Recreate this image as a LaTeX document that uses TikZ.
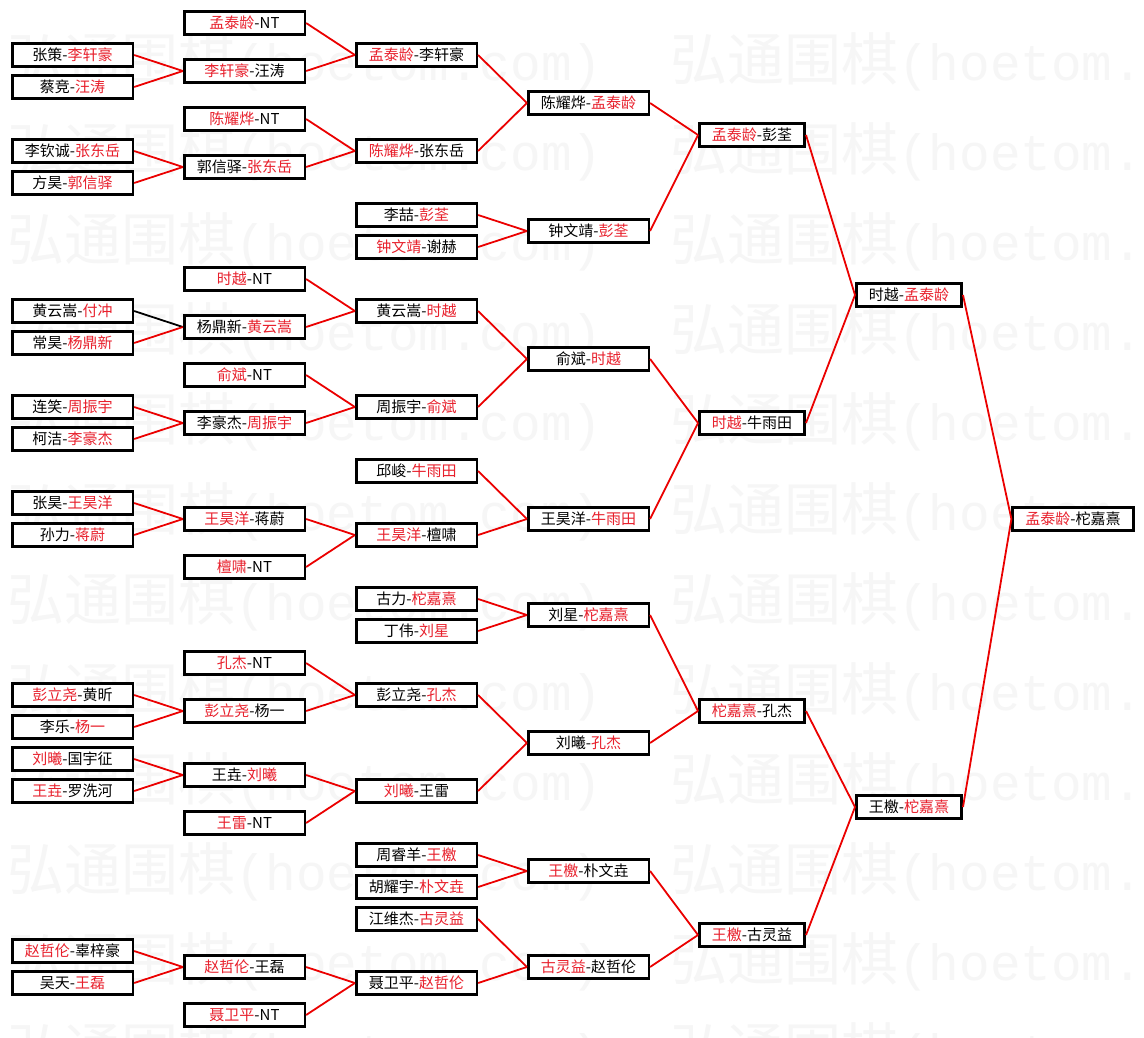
\documentclass[tikz,border=0pt]{standalone}
\usepackage{fontspec}
\setmainfont{Noto Sans CJK SC}
\newfontfamily\wmcjk{Noto Sans CJK SC}
\newfontfamily\wmmono{Liberation Mono}
\definecolor{txtred}{RGB}{232,32,44}
\definecolor{linered}{RGB}{235,0,0}
\definecolor{wmgray}{RGB}{246,246,246}
\newcommand\myred[1]{\textcolor{txtred}{#1}}
\begin{document}
\begin{tikzpicture}[x=1pt,y=-1pt,
  box/.style={draw=black, line width=2.6pt, fill=white, minimum width=120.6pt,
    minimum height=23.4pt, inner sep=0pt, font=\fontsize{15}{18}\selectfont},
  narrow/.style={box, minimum width=105.4pt},
  link/.style={draw=linered, line width=1.8pt},
  blink/.style={draw=black, line width=1.8pt},
  wm/.style={text=wmgray, inner sep=0pt, anchor=west}]
\useasboundingbox (0,0) rectangle (1144,1037);
\fill[white] (0,0) rectangle (1144,1037);
% watermark
\foreach \k in {0,...,11}{
  \foreach \x in {7,670}{
    \node[wm] (wm-\k-\x) at (\x,62+90*\k)
      {\wmcjk\fontsize{57}{60}\selectfont 弘通围棋\wmmono\fontsize{51}{60}\selectfont (hoetom.com)};
  }
}
% column A
\node[box] (a1) at (72.5,55) {张策-\myred{李轩豪}};
\node[box] (a2) at (72.5,87) {蔡竞-\myred{汪涛}};
\node[box] (a3) at (72.5,151) {李钦诚-\myred{张东岳}};
\node[box] (a4) at (72.5,183) {方昊-\myred{郭信驿}};
\node[box] (a5) at (72.5,311) {黄云嵩-\myred{付冲}};
\node[box] (a6) at (72.5,343) {常昊-\myred{杨鼎新}};
\node[box] (a7) at (72.5,407) {连笑-\myred{周振宇}};
\node[box] (a8) at (72.5,439) {柯洁-\myred{李豪杰}};
\node[box] (a9) at (72.5,503) {张昊-\myred{王昊洋}};
\node[box] (a10) at (72.5,535) {孙力-\myred{蒋蔚}};
\node[box] (a11) at (72.5,695) {\myred{彭立尧}-黄昕};
\node[box] (a12) at (72.5,727) {李乐-\myred{杨一}};
\node[box] (a13) at (72.5,759) {\myred{刘曦}-国宇征};
\node[box] (a14) at (72.5,791) {\myred{王垚}-罗洗河};
\node[box] (a15) at (72.5,951) {\myred{赵哲伦}-辜梓豪};
\node[box] (a16) at (72.5,983) {吴天-\myred{王磊}};
% column B
\node[box] (b1) at (244.5,23) {\myred{孟泰龄}-NT};
\node[box] (b2) at (244.5,71) {\myred{李轩豪}-汪涛};
\node[box] (b3) at (244.5,119) {\myred{陈耀烨}-NT};
\node[box] (b4) at (244.5,167) {郭信驿-\myred{张东岳}};
\node[box] (b5) at (244.5,279) {\myred{时越}-NT};
\node[box] (b6) at (244.5,327) {杨鼎新-\myred{黄云嵩}};
\node[box] (b7) at (244.5,375) {\myred{俞斌}-NT};
\node[box] (b8) at (244.5,423) {李豪杰-\myred{周振宇}};
\node[box] (b9) at (244.5,519) {\myred{王昊洋}-蒋蔚};
\node[box] (b10) at (244.5,567) {\myred{檀啸}-NT};
\node[box] (b11) at (244.5,663) {\myred{孔杰}-NT};
\node[box] (b12) at (244.5,711) {\myred{彭立尧}-杨一};
\node[box] (b13) at (244.5,775) {王垚-\myred{刘曦}};
\node[box] (b14) at (244.5,823) {\myred{王雷}-NT};
\node[box] (b15) at (244.5,967) {\myred{赵哲伦}-王磊};
\node[box] (b16) at (244.5,1015) {\myred{聂卫平}-NT};
% column C
\node[box] (c1) at (416.5,55) {\myred{孟泰龄}-李轩豪};
\node[box] (c2) at (416.5,151) {\myred{陈耀烨}-张东岳};
\node[box] (c3) at (416.5,215) {李喆-\myred{彭荃}};
\node[box] (c4) at (416.5,247) {\myred{钟文靖}-谢赫};
\node[box] (c5) at (416.5,311) {黄云嵩-\myred{时越}};
\node[box] (c6) at (416.5,407) {周振宇-\myred{俞斌}};
\node[box] (c7) at (416.5,471) {邱峻-\myred{牛雨田}};
\node[box] (c8) at (416.5,535) {\myred{王昊洋}-檀啸};
\node[box] (c9) at (416.5,599) {古力-\myred{柁嘉熹}};
\node[box] (c10) at (416.5,631) {丁伟-\myred{刘星}};
\node[box] (c11) at (416.5,695) {彭立尧-\myred{孔杰}};
\node[box] (c12) at (416.5,791) {\myred{刘曦}-王雷};
\node[box] (c13) at (416.5,855) {周睿羊-\myred{王檄}};
\node[box] (c14) at (416.5,887) {胡耀宇-\myred{朴文垚}};
\node[box] (c15) at (416.5,919) {江维杰-\myred{古灵益}};
\node[box] (c16) at (416.5,983) {聂卫平-\myred{赵哲伦}};
% column D
\node[box] (d1) at (588.5,103) {陈耀烨-\myred{孟泰龄}};
\node[box] (d2) at (588.5,231) {钟文靖-\myred{彭荃}};
\node[box] (d3) at (588.5,359) {俞斌-\myred{时越}};
\node[box] (d4) at (588.5,519) {王昊洋-\myred{牛雨田}};
\node[box] (d5) at (588.5,615) {刘星-\myred{柁嘉熹}};
\node[box] (d6) at (588.5,743) {刘曦-\myred{孔杰}};
\node[box] (d7) at (588.5,871) {\myred{王檄}-朴文垚};
\node[box] (d8) at (588.5,967) {\myred{古灵益}-赵哲伦};
% column E
\node[narrow] (e1) at (752,135) {\myred{孟泰龄}-彭荃};
\node[narrow] (e2) at (752,423) {\myred{时越}-牛雨田};
\node[narrow] (e3) at (752,711) {\myred{柁嘉熹}-孔杰};
\node[narrow] (e4) at (752,935) {\myred{王檄}-古灵益};
% column F
\node[narrow] (f1) at (909,295) {时越-\myred{孟泰龄}};
\node[narrow] (f2) at (909,807) {王檄-\myred{柁嘉熹}};
% column G
\node[box] (g) at (1073,519) {\myred{孟泰龄}-柁嘉熹};
% links A -> B
\draw[link] (a1.east) -- (b2.west);
\draw[link] (a2.east) -- (b2.west);
\draw[link] (a3.east) -- (b4.west);
\draw[link] (a4.east) -- (b4.west);
\draw[blink] (a5.east) -- (b6.west);
\draw[link] (a6.east) -- (b6.west);
\draw[link] (a7.east) -- (b8.west);
\draw[link] (a8.east) -- (b8.west);
\draw[link] (a9.east) -- (b9.west);
\draw[link] (a10.east) -- (b9.west);
\draw[link] (a11.east) -- (b12.west);
\draw[link] (a12.east) -- (b12.west);
\draw[link] (a13.east) -- (b13.west);
\draw[link] (a14.east) -- (b13.west);
\draw[link] (a15.east) -- (b15.west);
\draw[link] (a16.east) -- (b15.west);
% links B -> C
\draw[link] (b1.east) -- (c1.west);
\draw[link] (b2.east) -- (c1.west);
\draw[link] (b3.east) -- (c2.west);
\draw[link] (b4.east) -- (c2.west);
\draw[link] (b5.east) -- (c5.west);
\draw[link] (b6.east) -- (c5.west);
\draw[link] (b7.east) -- (c6.west);
\draw[link] (b8.east) -- (c6.west);
\draw[link] (b9.east) -- (c8.west);
\draw[link] (b10.east) -- (c8.west);
\draw[link] (b11.east) -- (c11.west);
\draw[link] (b12.east) -- (c11.west);
\draw[link] (b13.east) -- (c12.west);
\draw[link] (b14.east) -- (c12.west);
\draw[link] (b15.east) -- (c16.west);
\draw[link] (b16.east) -- (c16.west);
% links C -> D
\draw[link] (c1.east) -- (d1.west);
\draw[link] (c2.east) -- (d1.west);
\draw[link] (c3.east) -- (d2.west);
\draw[link] (c4.east) -- (d2.west);
\draw[link] (c5.east) -- (d3.west);
\draw[link] (c6.east) -- (d3.west);
\draw[link] (c7.east) -- (d4.west);
\draw[link] (c8.east) -- (d4.west);
\draw[link] (c9.east) -- (d5.west);
\draw[link] (c10.east) -- (d5.west);
\draw[link] (c11.east) -- (d6.west);
\draw[link] (c12.east) -- (d6.west);
\draw[link] (c13.east) -- (d7.west);
\draw[link] (c14.east) -- (d7.west);
\draw[link] (c15.east) -- (d8.west);
\draw[link] (c16.east) -- (d8.west);
% links D -> E
\draw[link] (d1.east) -- (e1.west);
\draw[link] (d2.east) -- (e1.west);
\draw[link] (d3.east) -- (e2.west);
\draw[link] (d4.east) -- (e2.west);
\draw[link] (d5.east) -- (e3.west);
\draw[link] (d6.east) -- (e3.west);
\draw[link] (d7.east) -- (e4.west);
\draw[link] (d8.east) -- (e4.west);
% links E -> F
\draw[link] (e1.east) -- (f1.west);
\draw[link] (e2.east) -- (f1.west);
\draw[link] (e3.east) -- (f2.west);
\draw[link] (e4.east) -- (f2.west);
% links F -> G
\draw[link] (f1.east) -- (g.west);
\draw[link] (f2.east) -- (g.west);
\end{tikzpicture}
\end{document}
